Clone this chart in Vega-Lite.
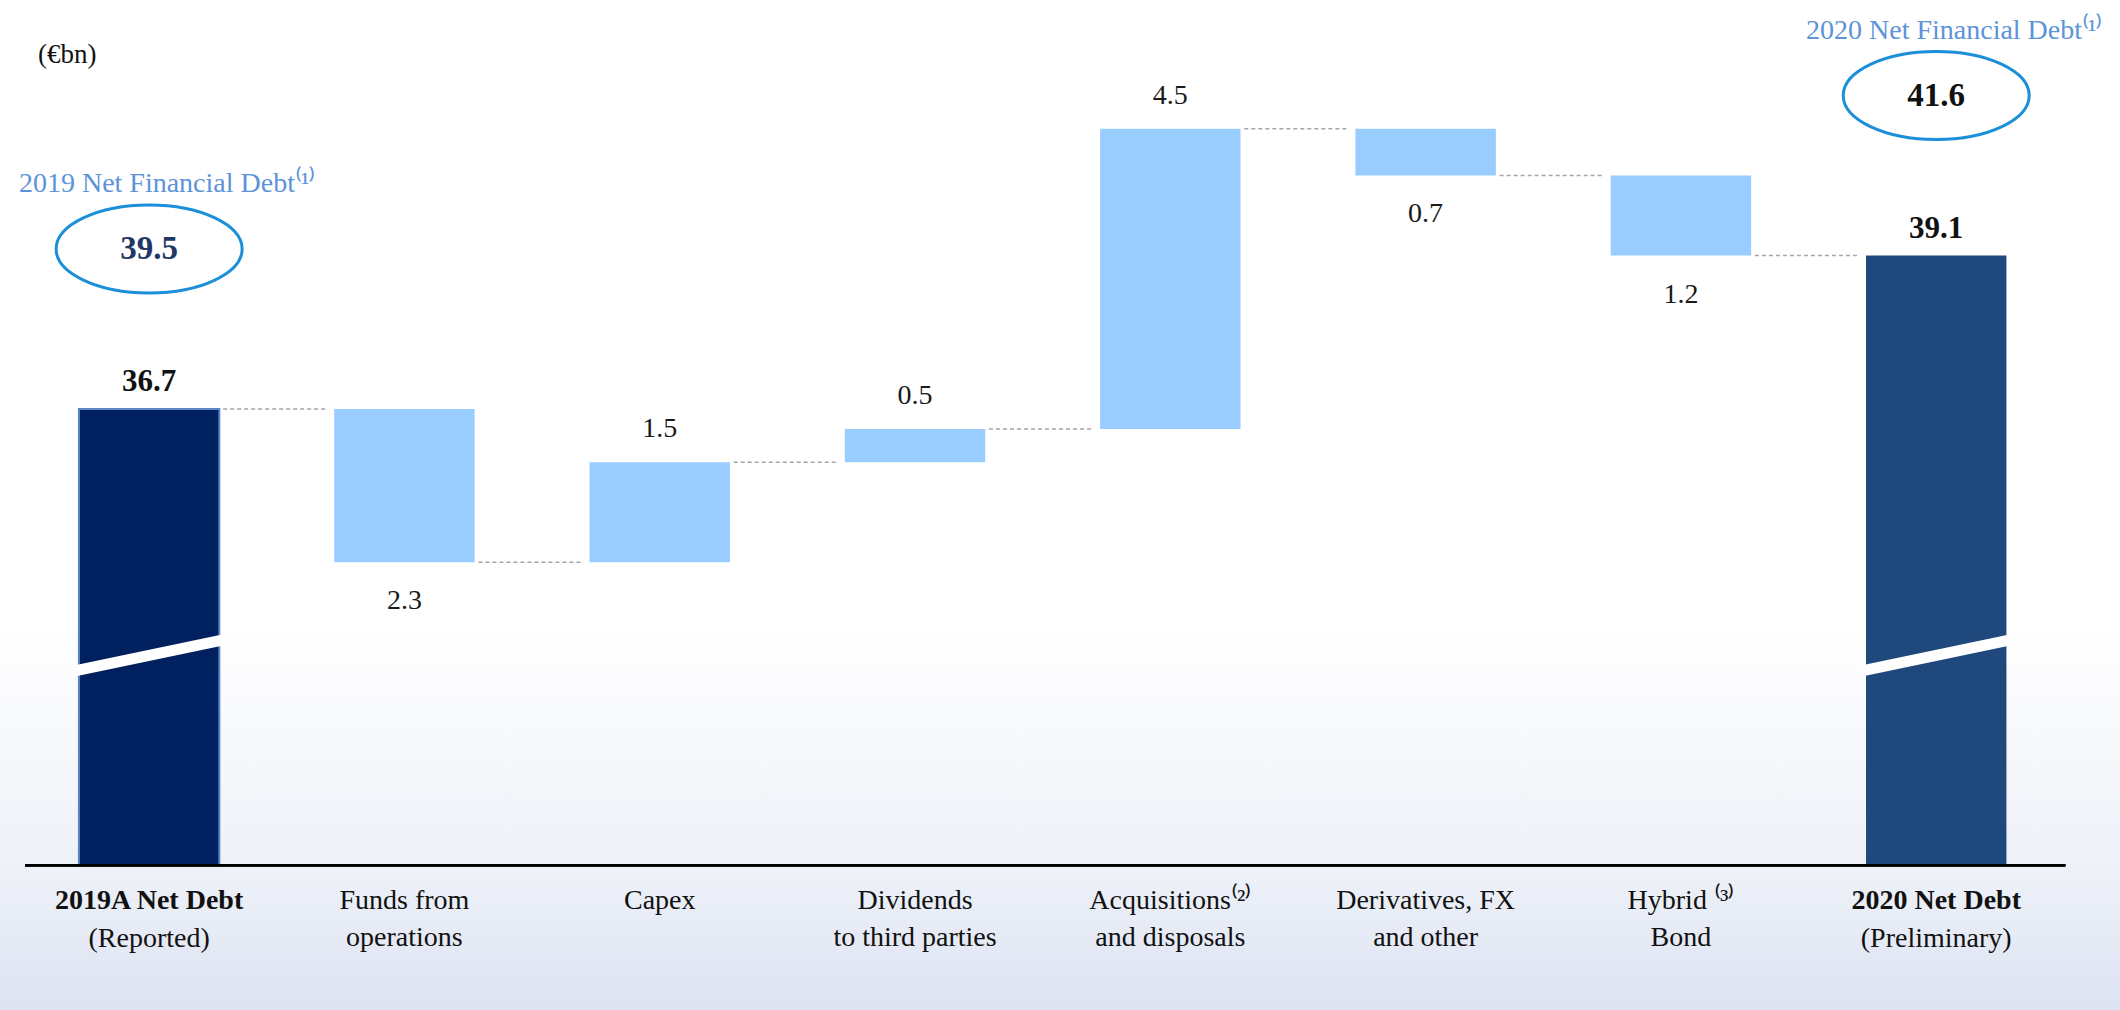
{
  "$schema": "https://vega.github.io/schema/vega-lite/v6.json",
  "width": 2120,
  "height": 1010,
  "padding": 0,
  "autosize": "none",
  "view": {
    "stroke": null,
    "fill": {
      "gradient": "linear",
      "x1": 0, "y1": 0, "x2": 0, "y2": 1,
      "stops": [
        {"offset": 0, "color": "#ffffff"},
        {"offset": 0.62, "color": "#ffffff"},
        {"offset": 0.86, "color": "#EEF1F8"},
        {"offset": 1, "color": "#DCE3F2"}
      ]
    }
  },
  "config": {"font": "Liberation Serif", "view": {"stroke": null}},
  "title": {
    "text": "(€bn)",
    "anchor": "start",
    "frame": "group",
    "orient": "top",
    "offset": -82,
    "dx": 38,
    "fontSize": 27,
    "fontWeight": "normal",
    "color": "#111111",
    "baseline": "middle",
    "font": "Liberation Serif"
  },
  "data": {
    "values": [
      {"cat": "c1", "name": "2019A Net Debt", "sub": "(Reported)", "kind": "total1", "start": 29.86, "end": 36.7, "label": "36.7", "next": "c2", "nfd": "39.5", "nfdLabel": "2019 Net Financial Debt⁽¹⁾"},
      {"cat": "c2", "name": "Funds from\noperations", "kind": "decrease", "start": 36.7, "end": 34.4, "label": "2.3", "next": "c3"},
      {"cat": "c3", "name": "Capex", "kind": "increase", "start": 34.4, "end": 35.9, "label": "1.5", "next": "c4"},
      {"cat": "c4", "name": "Dividends\nto third parties", "kind": "increase", "start": 35.9, "end": 36.4, "label": "0.5", "next": "c5"},
      {"cat": "c5", "name": "Acquisitions⁽²⁾\nand disposals", "kind": "increase", "start": 36.4, "end": 40.9, "label": "4.5", "next": "c6"},
      {"cat": "c6", "name": "Derivatives, FX\nand other", "kind": "decrease", "start": 40.9, "end": 40.2, "label": "0.7", "next": "c7"},
      {"cat": "c7", "name": "Hybrid ⁽³⁾\nBond", "kind": "decrease", "start": 40.2, "end": 39.0, "label": "1.2", "next": "c8"},
      {"cat": "c8", "name": "2020 Net Debt", "sub": "(Preliminary)", "kind": "total2", "start": 29.86, "end": 39.0, "label": "39.1", "nfd": "41.6", "nfdLabel": "2020 Net Financial Debt⁽¹⁾"}
    ]
  },
  "encoding": {
    "x": {
      "field": "cat",
      "type": "nominal",
      "sort": null,
      "axis": null,
      "scale": {"type": "band", "domain": ["c1", "c2", "c3", "c4", "c5", "c6", "c7", "c8"], "paddingInner": 0.45, "paddingOuter": 0.377, "align": 0.41}
    }
  },
  "layer": [
    {
      "mark": {"type": "rule", "strokeDash": [4, 3], "strokeWidth": 1.5, "color": "#A6A6A6", "xOffset": 74, "x2Offset": -78},
      "transform": [{"filter": "datum.next != null"}],
      "encoding": {
        "x2": {"field": "next"},
        "y": {"field": "end", "type": "quantitative", "axis": null, "scale": {"domain": [27.69, 42.83], "nice": false, "zero": false}}
      }
    },
    {
      "mark": {"type": "bar", "strokeWidth": 2},
      "encoding": {
        "y": {"field": "end", "type": "quantitative", "axis": null, "scale": {"domain": [27.69, 42.83], "nice": false, "zero": false}},
        "y2": {"field": "start"},
        "color": {"field": "kind", "type": "nominal", "legend": null, "scale": {"domain": ["total1", "decrease", "increase", "total2"], "range": ["#002060", "#99CCFF", "#99CCFF", "#1F497D"]}},
        "stroke": {"condition": {"test": "datum.kind == 'total1'", "value": "#5B86C5"}, "value": null}
      }
    },
    {
      "mark": {"type": "rule", "color": "#ffffff", "strokeWidth": 11, "strokeCap": "butt", "xOffset": -73, "x2Offset": 73},
      "transform": [{"filter": "test(/total/, datum.kind)"}],
      "encoding": {
        "x2": {"field": "cat"},
        "y": {"datum": 32.777, "type": "quantitative", "axis": null, "scale": {"domain": [27.69, 42.83], "nice": false, "zero": false}},
        "y2": {"datum": 33.234}
      }
    },
    {
      "mark": {"type": "rule", "color": "#000000", "strokeWidth": 2, "xOffset": -124, "x2Offset": 129},
      "encoding": {
        "x": {"datum": "c1", "type": "nominal"},
        "x2": {"datum": "c8"},
        "y": {"datum": 29.86, "type": "quantitative", "axis": null, "scale": {"domain": [27.69, 42.83], "nice": false, "zero": false}}
      }
    },
    {
      "mark": {"type": "text", "baseline": "middle", "fontSize": 28, "color": "#1a1a1a", "yOffset": -33},
      "transform": [{"filter": "datum.kind == 'increase'"}],
      "encoding": {
        "y": {"field": "end", "type": "quantitative", "axis": null, "scale": {"domain": [27.69, 42.83], "nice": false, "zero": false}},
        "text": {"field": "label"}
      }
    },
    {
      "mark": {"type": "text", "baseline": "middle", "fontSize": 28, "color": "#1a1a1a", "yOffset": 39},
      "transform": [{"filter": "datum.kind == 'decrease'"}],
      "encoding": {
        "y": {"field": "end", "type": "quantitative", "axis": null, "scale": {"domain": [27.69, 42.83], "nice": false, "zero": false}},
        "text": {"field": "label"}
      }
    },
    {
      "mark": {"type": "text", "baseline": "middle", "fontSize": 31, "fontWeight": "bold", "color": "#111111", "yOffset": -27},
      "transform": [{"filter": "test(/total/, datum.kind)"}],
      "encoding": {
        "y": {"field": "end", "type": "quantitative", "axis": null, "scale": {"domain": [27.69, 42.83], "nice": false, "zero": false}},
        "text": {"field": "label"}
      }
    },
    {
      "mark": {"type": "point", "shape": "M-1,0A1,0.473,0,1,1,1,0A1,0.473,0,1,1,-1,0Z", "size": 34596, "filled": false, "stroke": "#1B8FD8", "strokeWidth": 3, "opacity": 1, "yOffset": -160},
      "transform": [{"filter": "test(/total/, datum.kind)"}],
      "encoding": {
        "y": {"field": "end", "type": "quantitative", "axis": null, "scale": {"domain": [27.69, 42.83], "nice": false, "zero": false}}
      }
    },
    {
      "mark": {"type": "text", "baseline": "middle", "fontSize": 33, "fontWeight": "bold", "yOffset": -160},
      "transform": [{"filter": "test(/total/, datum.kind)"}],
      "encoding": {
        "y": {"field": "end", "type": "quantitative", "axis": null, "scale": {"domain": [27.69, 42.83], "nice": false, "zero": false}},
        "text": {"field": "nfd"},
        "color": {"condition": {"test": "datum.kind == 'total1'", "value": "#1F3864"}, "value": "#111111"}
      }
    },
    {
      "mark": {"type": "text", "baseline": "middle", "fontSize": 28, "color": "#5D93D8", "yOffset": -225, "xOffset": 18},
      "transform": [{"filter": "test(/total/, datum.kind)"}],
      "encoding": {
        "y": {"field": "end", "type": "quantitative", "axis": null, "scale": {"domain": [27.69, 42.83], "nice": false, "zero": false}},
        "text": {"field": "nfdLabel"}
      }
    },
    {
      "mark": {"type": "text", "baseline": "top", "fontSize": 28, "lineHeight": 37, "lineBreak": "\n", "color": "#111111", "dy": 22},
      "transform": [{"filter": "!test(/total/, datum.kind)"}],
      "encoding": {
        "y": {"datum": 29.86, "type": "quantitative", "axis": null, "scale": {"domain": [27.69, 42.83], "nice": false, "zero": false}},
        "text": {"field": "name"}
      }
    },
    {
      "mark": {"type": "text", "baseline": "top", "fontSize": 28, "fontWeight": "bold", "color": "#111111", "dy": 22},
      "transform": [{"filter": "test(/total/, datum.kind)"}],
      "encoding": {
        "y": {"datum": 29.86, "type": "quantitative", "axis": null, "scale": {"domain": [27.69, 42.83], "nice": false, "zero": false}},
        "text": {"field": "name"}
      }
    },
    {
      "mark": {"type": "text", "baseline": "top", "fontSize": 28, "color": "#111111", "dy": 60},
      "transform": [{"filter": "test(/total/, datum.kind)"}],
      "encoding": {
        "y": {"datum": 29.86, "type": "quantitative", "axis": null, "scale": {"domain": [27.69, 42.83], "nice": false, "zero": false}},
        "text": {"field": "sub"}
      }
    }
  ]
}
